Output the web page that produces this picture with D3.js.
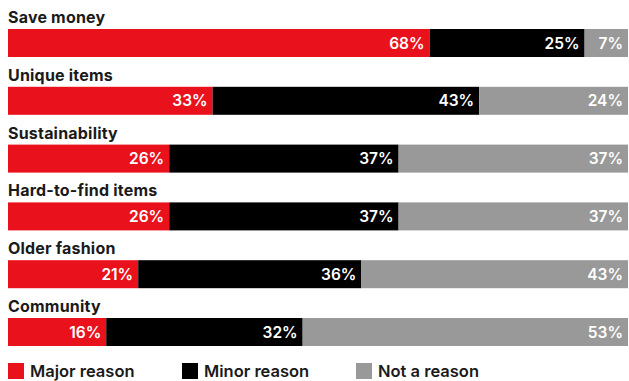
<!DOCTYPE html>
<html>
<head>
<meta charset="utf-8">
<script src="https://cdn.jsdelivr.net/npm/d3@7"></script>
<style>
  html, body { margin: 0; padding: 0; background: #fff; }
  svg { display: block; }
</style>
</head>
<body>
<svg id="chart" width="629" height="381"></svg>
<script>
const categories = ["Save money", "Unique items", "Sustainability", "Hard-to-find items", "Older fashion", "Community"];
const seriesNames = ["Major reason", "Minor reason", "Not a reason"];
const majorReason = [68, 33, 26, 26, 21, 16];
const minorReason = [25, 43, 37, 37, 36, 32];
const notAReason  = [7, 24, 37, 37, 43, 53];
const colors = ["#e8111c", "#000000", "#999999"];

const data = categories.map((c, i) => ({
  category: c,
  "Major reason": majorReason[i],
  "Minor reason": minorReason[i],
  "Not a reason": notAReason[i]
}));

const W = 629, H = 381;
const left = 8, right = 628;
const barH = 28;
const svg = d3.select("#chart");

const x = d3.scaleLinear().domain([0, 1]).range([left, right]);
const y = d3.scalePoint().domain(categories).range([29, 318]);
const color = d3.scaleOrdinal().domain(seriesNames).range(colors);

const stack = d3.stack().keys(seriesNames).offset(d3.stackOffsetExpand);
const series = stack(data);

const font = "Inter, Roboto, sans-serif";

// category labels
svg.append("g").selectAll("text")
  .data(categories)
  .join("text")
  .attr("x", left)
  .attr("y", d => y(d) - 6)
  .attr("font-family", font)
  .attr("font-weight", 700)
  .attr("font-size", 16)
  .attr("letter-spacing", 0.2)
  .attr("fill", "#1a1a1a")
  .text(d => d);

const g = svg.append("g").selectAll("g")
  .data(series)
  .join("g")
  .attr("fill", d => color(d.key));

g.selectAll("rect")
  .data(d => d.map(v => ({ key: d.key, v })))
  .join("rect")
  .attr("x", d => x(d.v[0]))
  .attr("y", d => y(d.v.data.category))
  .attr("width", d => x(d.v[1]) - x(d.v[0]))
  .attr("height", barH);

g.selectAll("text")
  .data(d => d.map(v => ({ key: d.key, v })))
  .join("text")
  .attr("x", d => x(d.v[1]) - 5)
  .attr("y", d => y(d.v.data.category) + barH / 2 + 5.5)
  .attr("text-anchor", "end")
  .attr("font-family", font)
  .attr("font-weight", 600)
  .attr("font-size", 15.5)
  .attr("fill", "#fff")
  .text(d => d.v.data[d.key] + "%");

// legend
const legendX = [8, 182, 356];
const lg = svg.append("g").selectAll("g")
  .data(seriesNames)
  .join("g")
  .attr("transform", (d, i) => `translate(${legendX[i]},363)`);
lg.append("rect").attr("width", 16).attr("height", 16).attr("fill", d => color(d));
lg.append("text")
  .attr("x", 22)
  .attr("y", 14)
  .attr("font-family", font)
  .attr("font-weight", 600)
  .attr("font-size", 16.5)
  .attr("fill", "#1a1a1a")
  .text(d => d);
</script>
</body>
</html>
